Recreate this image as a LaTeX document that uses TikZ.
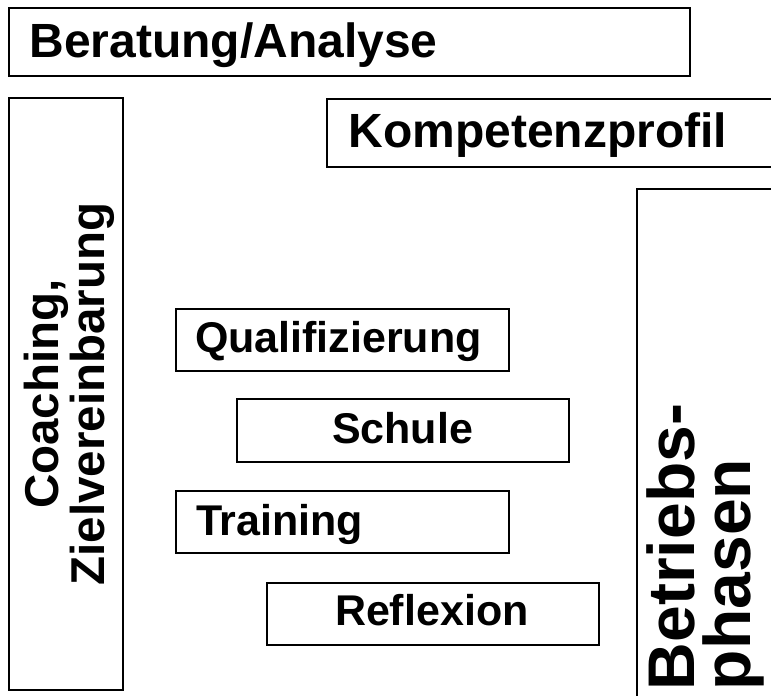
\documentclass[tikz,border=0pt]{standalone}
\usepackage{fontspec}
\setmainfont{Liberation Sans}
\begin{document}
\begin{tikzpicture}[x=1pt,y=-1pt,
  box/.style={draw=black,line width=1.5pt},
  lbl/.style={inner sep=0pt,outer sep=0pt,anchor=base west,font=\bfseries\fontsize{48}{48}\selectfont},
  mid/.style={inner sep=0pt,outer sep=0pt,anchor=base west,font=\bfseries\fontsize{43}{43}\selectfont},
  vlbl/.style={inner sep=0pt,outer sep=0pt,anchor=base,rotate=90,font=\bfseries\fontsize{47.5}{47.5}\selectfont},
  blbl/.style={inner sep=0pt,outer sep=0pt,anchor=base west,rotate=90,font=\bfseries\fontsize{66}{66}\selectfont}]
\useasboundingbox (0,0) rectangle (771,696);
\fill[white] (0,0) rectangle (771,696);
\clip (0,0) rectangle (771,696);
% boxes
\draw[box] (9,8) rectangle (690,76);
\draw[box] (9,98) rectangle (123,690);
\draw[box] (327,99) rectangle (800,167);
\draw[box] (637,189) rectangle (800,740);
\draw[box] (176,309) rectangle (509,371);
\draw[box] (237,399) rectangle (569,462);
\draw[box] (176,491) rectangle (509,553);
\draw[box] (267,583) rectangle (599,645);
% labels
\node[lbl] (ber) at (29.5,57) {Beratung/Analyse};
\node[lbl] (kom) at (348.5,147) {Kompetenzprofil};
\node[mid] (qua) at (195,352) {Qualifizierung};
\node[mid] (sch) at (332,443) {Schule};
\node[mid] (tra) at (196,535) {Training};
\node[mid] (ref) at (335,625) {Reflexion};
\node[vlbl] (coa) at (58,394) {Coaching,};
\node[vlbl] (ziel) at (104,394) {Zielvereinbarung};
\node[blbl] (betr) at (694,690) {Betriebs-};
\node[blbl] (phas) at (750,690) {phasen};
\end{tikzpicture}
\end{document}
